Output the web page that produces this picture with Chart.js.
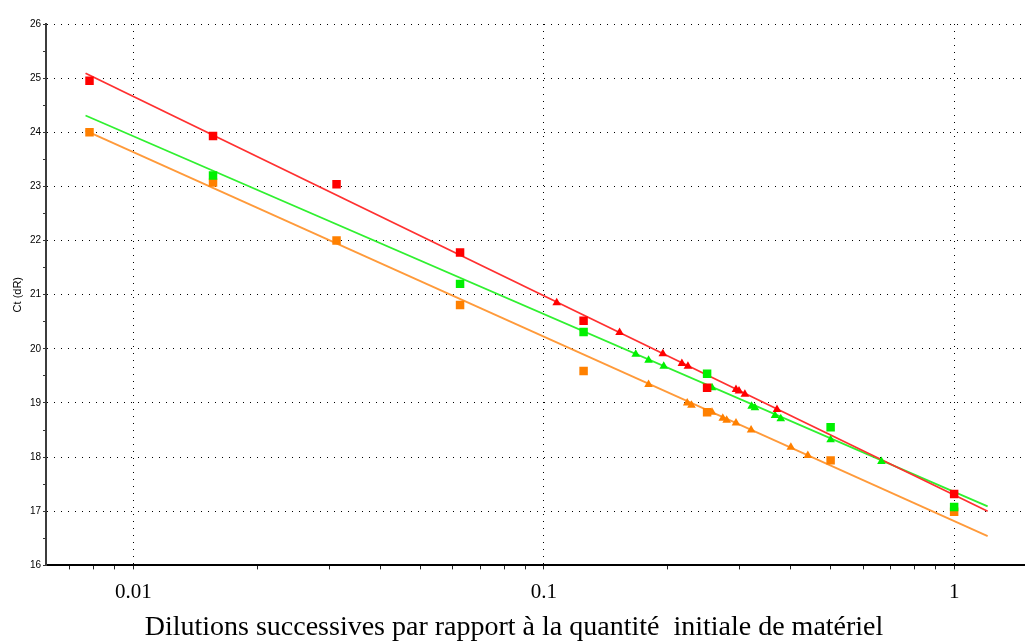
<!DOCTYPE html>
<html>
<head>
<meta charset="utf-8">
<script src="https://cdn.jsdelivr.net/npm/chart.js@4/dist/chart.umd.min.js"></script>
<style>
  html, body { margin: 0; padding: 0; background: #ffffff; }
  #wrap { width: 1030px; height: 644px; }
</style>
</head>
<body>
<div id="wrap"><canvas id="c" width="1030" height="644"></canvas></div>
<script>
// Twofold dilution series (fraction of starting material)
const dilutions = [1/128, 1/64, 1/32, 1/16, 1/8, 1/4, 1/2, 1];

// Ct values of the standards (squares), one array per run
const redStd    = [24.95, 23.93, 23.04, 21.78, 20.52, 19.28, null, 17.32];
const greenStd  = [null, 23.20, null, 21.20, 20.31, 19.54, 18.55, 17.08];
const orangeStd = [24.00, 23.07, 22.00, 20.81, 19.59, 18.83, 17.94, 16.99];

// Unknown samples (triangles): quantity and Ct
const redSmpX    = [0.1075, 0.153, 0.195, 0.217, 0.2245, 0.294, 0.299, 0.309, 0.370];
const redSmpY    = [20.85, 20.30, 19.91, 19.73, 19.68, 19.25, 19.22, 19.16, 18.88];
const greenSmpX  = [0.1675, 0.180, 0.196, 0.257, 0.321, 0.327, 0.366, 0.378, 0.500, 0.665];
const greenSmpY  = [19.90, 19.79, 19.68, 19.28, 18.94, 18.91, 18.77, 18.71, 18.32, 17.92];
const orangeSmpX = [0.180, 0.2236, 0.229, 0.257, 0.273, 0.279, 0.294, 0.320, 0.400, 0.440];
const orangeSmpY = [19.34, 19.00, 18.96, 18.83, 18.72, 18.68, 18.63, 18.50, 18.18, 18.03];

// Standard-curve end points
const fitX      = [0.00764, 1.207];
const redFit    = [25.09, 17.00];
const greenFit  = [24.31, 17.09];
const orangeFit = [24.03, 16.54];

// Axis ticks
const xMajorTicks  = [0.01, 0.1, 1];
const xTickLabels  = ['0.01', '0.1', '1'];
const xMinorTicks  = [0.007, 0.008, 0.009, 0.02, 0.03, 0.04, 0.05, 0.06, 0.07, 0.08, 0.09,
                      0.2, 0.3, 0.4, 0.5, 0.6, 0.7, 0.8, 0.9];
const yMin = 16, yMax = 26, yStep = 0.5;

const xTitle = 'Dilutions successives par rapport à la quantité  initiale de matériel';
const yTitle = 'Ct (dR)';

const RED = '#ff0000', GREEN = '#00f000', ORANGE = '#ff8000';

function pairs(xs, ys) {
  const out = [];
  xs.forEach((x, i) => { if (ys[i] !== null) out.push({ x: x, y: ys[i] }); });
  return out;
}

function lineSet(ys, color, order) {
  return {
    data: pairs(fitX, ys), showLine: true, borderColor: color, borderWidth: 1.8,
    pointRadius: 0, order: order
  };
}
function markSet(xs, ys, color, style, r, order) {
  return {
    data: pairs(xs, ys), pointStyle: style, pointRadius: r, pointBorderWidth: 0,
    backgroundColor: color, borderColor: color, order: order
  };
}

const isMajorX = v => xMajorTicks.some(m => Math.abs(m - v) / m < 1e-6);

new Chart(document.getElementById('c'), {
  type: 'scatter',
  data: {
    datasets: [
      markSet(redSmpX, redSmpY, RED, 'triangle', 5, 4),
      markSet(greenSmpX, greenSmpY, GREEN, 'triangle', 5, 5),
      markSet(orangeSmpX, orangeSmpY, ORANGE, 'triangle', 5, 6),
      markSet(dilutions, redStd, RED, 'rect', 6, 1),
      markSet(dilutions, greenStd, GREEN, 'rect', 6, 2),
      markSet(dilutions, orangeStd, ORANGE, 'rect', 6, 3),
      lineSet(orangeFit, '#ff9a3a', 9),
      lineSet(greenFit, '#30f030', 8),
      lineSet(redFit, '#ff3030', 7)
    ]
  },
  options: {
    responsive: false,
    animation: false,
    events: [],
    layout: { padding: { left: 0, right: 2, top: 24, bottom: 0 } },
    plugins: {
      legend: { display: false },
      tooltip: { enabled: false },
      title: {
        display: true, position: 'bottom', text: xTitle, color: '#000',
        font: { family: '"Liberation Serif", "Times New Roman", serif', size: 28, weight: 'normal' },
        padding: { top: 0, bottom: 0 }
      }
    },
    scales: {
      x: {
        type: 'logarithmic', min: 0.00612, max: 1.48, bounds: 'data',
        afterBuildTicks: s => {
          s.ticks = xMajorTicks.concat(xMinorTicks).sort((a, b) => a - b).map(v => ({ value: v }));
        },
        afterFit: s => { s.height = 45; },
        ticks: {
          autoSkip: false, maxRotation: 0, color: '#000', padding: 10,
          font: { family: '"Liberation Serif", "Times New Roman", serif', size: 21 },
          callback: v => {
            const i = xMajorTicks.findIndex(m => Math.abs(m - v) / m < 1e-6);
            return i >= 0 ? xTickLabels[i] : '';
          }
        },
        grid: {
          color: c => (c.tick && isMajorX(c.tick.value)) ? '#000' : 'rgba(0,0,0,0)',
          lineWidth: 1, tickLength: 4, tickColor: '#222', tickWidth: 1, tickBorderDash: []
        },
        border: { display: true, color: '#000', width: 2, dash: [1, 6] }
      },
      y: {
        type: 'linear', min: yMin, max: yMax,
        afterFit: s => { s.width = 46; },
        ticks: {
          stepSize: yStep, color: '#000', padding: 2,
          font: { family: '"Liberation Sans", Arial, sans-serif', size: 10 },
          callback: v => (Math.abs(v - Math.round(v)) < 1e-6 ? String(Math.round(v)) : '')
        },
        grid: {
          color: c => (c.tick && Math.abs(c.tick.value % 1) < 1e-6) ? '#000' : 'rgba(0,0,0,0)',
          lineWidth: 1, tickLength: 3, tickColor: '#333', tickWidth: 1, tickBorderDash: []
        },
        border: { display: true, color: '#3c3c3c', width: 2, dash: [1, 6] },
        title: {
          display: true, text: yTitle, color: '#000',
          font: { family: '"Liberation Sans", Arial, sans-serif', size: 11 },
          padding: { top: 11, bottom: 0 }
        }
      }
    }
  }
});
</script>
</body>
</html>
